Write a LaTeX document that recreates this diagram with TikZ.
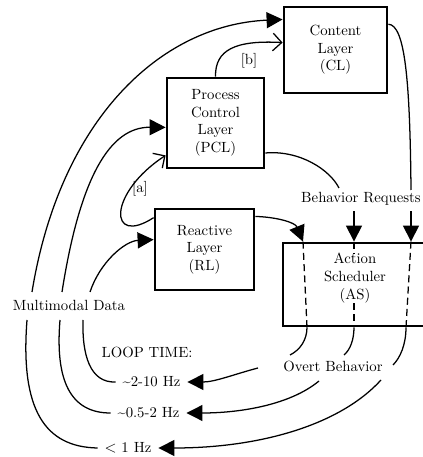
\documentclass[tikz,border=0pt]{standalone}
\usepackage{tikz}
\usetikzlibrary{calc}
\usetikzlibrary{arrows.meta}
\tikzset{every node/.style={font=\rmfamily\fontsize{10.5}{12.5}\selectfont}}
\tikzset{
  layer/.style={draw, line width=2pt, align=center, inner sep=2pt},
  tag/.style={align=center, inner sep=2pt, outer sep=2pt},
  hz/.style={tag, outer sep=3pt},
  flow/.style={line width=0.9pt},
  bigarrow/.style={flow, -{Triangle[length=4mm,width=4mm]}},
  openarrow/.style={flow, -{Straight Barb[length=2.2mm,width=4.4mm]}},
  dashline/.style={flow, dash pattern=on 5pt off 3pt}
}

\begin{document}
\begin{tikzpicture}
\useasboundingbox (0,0) rectangle (10.55,11.425);

% 各层
\node[layer, minimum width=2.575cm, minimum height=2.15cm] (CL) at (8.3875,10.175) {Content\\Layer\\(CL)};
\node[layer, minimum width=2.425cm, minimum height=2.25cm] (PCL) at (5.3875,8.35) {Process\\Control\\Layer\\(PCL)};
\node[layer, minimum width=2.475cm, minimum height=2.025cm] (RL) at (5.1125,5.1875) {Reactive\\Layer\\(RL)};
\node[layer, minimum width=3.6cm, minimum height=2.075cm] (AS) at (8.875,4.3125) {};
\node[align=center, inner sep=0pt] (ASt) at ($(AS)+(0,0.16)$) {Action\\Scheduler\\(AS)};

% 标签
\node[tag] (BR) at (9.025,6.45) {Behavior Requests};
\node[tag] (MD) at (1.725,3.8) {Multimodal Data};
\node[tag] (LT) at (3.675,2.625) {LOOP TIME:};
\node[hz] (H1) at (3.7875,1.875) {\textasciitilde 2-10 Hz};
\node[hz] (H2) at (3.7125,1.1) {\textasciitilde 0.5-2 Hz};
\node[hz] (H3) at (3.2,0.225) {$<$ 1 Hz};
\node[tag] (OB) at (8.325,2.275) {Overt Behavior};
\node[tag] (TA) at (3.5,6.7) {[a]};
\node[tag] (TB) at (6.225,9.9) {[b]};

\coordinate (d1) at ($(AS.north)+(-1.3,0)$);
\coordinate (d2) at ($(AS.north)+(-0.025,0)$);
\coordinate (d3) at ($(AS.north)+(1.4,0)$);
\coordinate (e1) at ($(AS.south)+(-1.2,0)$);
\coordinate (e2) at ($(AS.south)+(-0.025,0)$);
\coordinate (e3) at ($(AS.south)+(1.275,0)$);

%%%%%%%%%%%%%%%%%%%%%%%%%%%%%%%%%%%%%%%%%%%%%%%%%%%%%%%%%%%%%%%%%%%%%%%%
% 输入
\draw[bigarrow] ($(MD)+(-0.925,0.325)$) .. controls (1.5,8.425) and (4.0,10.8) .. (CL.150);
\draw[bigarrow] ($(MD)+(-0.175,0.325)$) .. controls (2.0,7.0) and (2.75,8.25) .. (PCL.185);
\draw[bigarrow] ($(MD)+(0.525,0.325)$) .. controls (2.5,4.875) and (3.125,5.4) .. (RL.169);

\draw[flow] (H3.west) .. controls (1.125,0.25) and (0.5,1.175) .. ($(MD)+(-1.05,-0.375)$);
\draw[flow] (H2.west) .. controls (1.75,1.1) and (1.375,1.925) .. ($(MD)+(-0.225,-0.375)$);
\draw[flow] (H1.west) .. controls (2.25,1.85) and (2.05,2.55) .. ($(MD)+(0.35,-0.375)$);

% [a] [b]
\draw[openarrow] (RL.148) .. controls (2.7,5.25) and (2.7,6.6) .. (PCL.213);
\draw[openarrow] (PCL.north) .. controls (5.375,10.175) and (5.875,10.425) .. (CL.172);

%%%%%%%%%%%%%%%%%%%%%%%%%%%%%%%%%%%%%%%%%%%%%%%%%%%%%%%%%%%%%%%%%%%%%%%%
% 行为请求
\draw[flow] (PCL.329) .. controls (7.5,7.675) and (8.25,7.175) .. ($(BR)+(-0.55,0.275)$);
\draw[flow] (CL.26) .. controls (10.125,10.8) and (10.25,9.425) .. ($(BR)+(1.25,0.225)$);

\draw[bigarrow] (RL.33) .. controls (6.875,6.0) and (7.375,5.875) .. (d1);
\draw[bigarrow] (BR.south -| d2) -- (d2);
\draw[bigarrow] (BR.south -| d3) -- (d3);

\draw[dashline] (d1) -- (e1);
\draw[dashline] (d2) -- (ASt.north -| d2);
\draw[dashline] (ASt.south -| e2) -- (e2);
\draw[dashline] (d3) -- (e3);

% 输出
\draw[flow] (e1) .. controls (7.675,2.925) and (7.5,2.675) .. ($(OB)+(-1.075,0.275)$);
\draw[flow] (e2) .. controls (8.85,2.925) and (8.75,2.675) .. ($(OB)+(0.275,0.275)$);
\draw[flow] (e3) .. controls (10.15,2.8) and (10.0,2.475) .. ($(OB)+(1.5,0.025)$);

\draw[bigarrow] ($(OB)+(-1.875,-0.05)$) .. controls (5.875,2.075) and (5.375,1.875) .. (H1.east);
\draw[bigarrow] ($(OB)+(-0.35,-0.375)$) .. controls (7.25,1.3) and (6.0,1.1) .. (H2.east);
\draw[bigarrow] ($(OB)+(1.2,-0.35)$) .. controls (8.5,0.8) and (6.5,0.225) .. (H3.east);

\end{tikzpicture}
\end{document}
